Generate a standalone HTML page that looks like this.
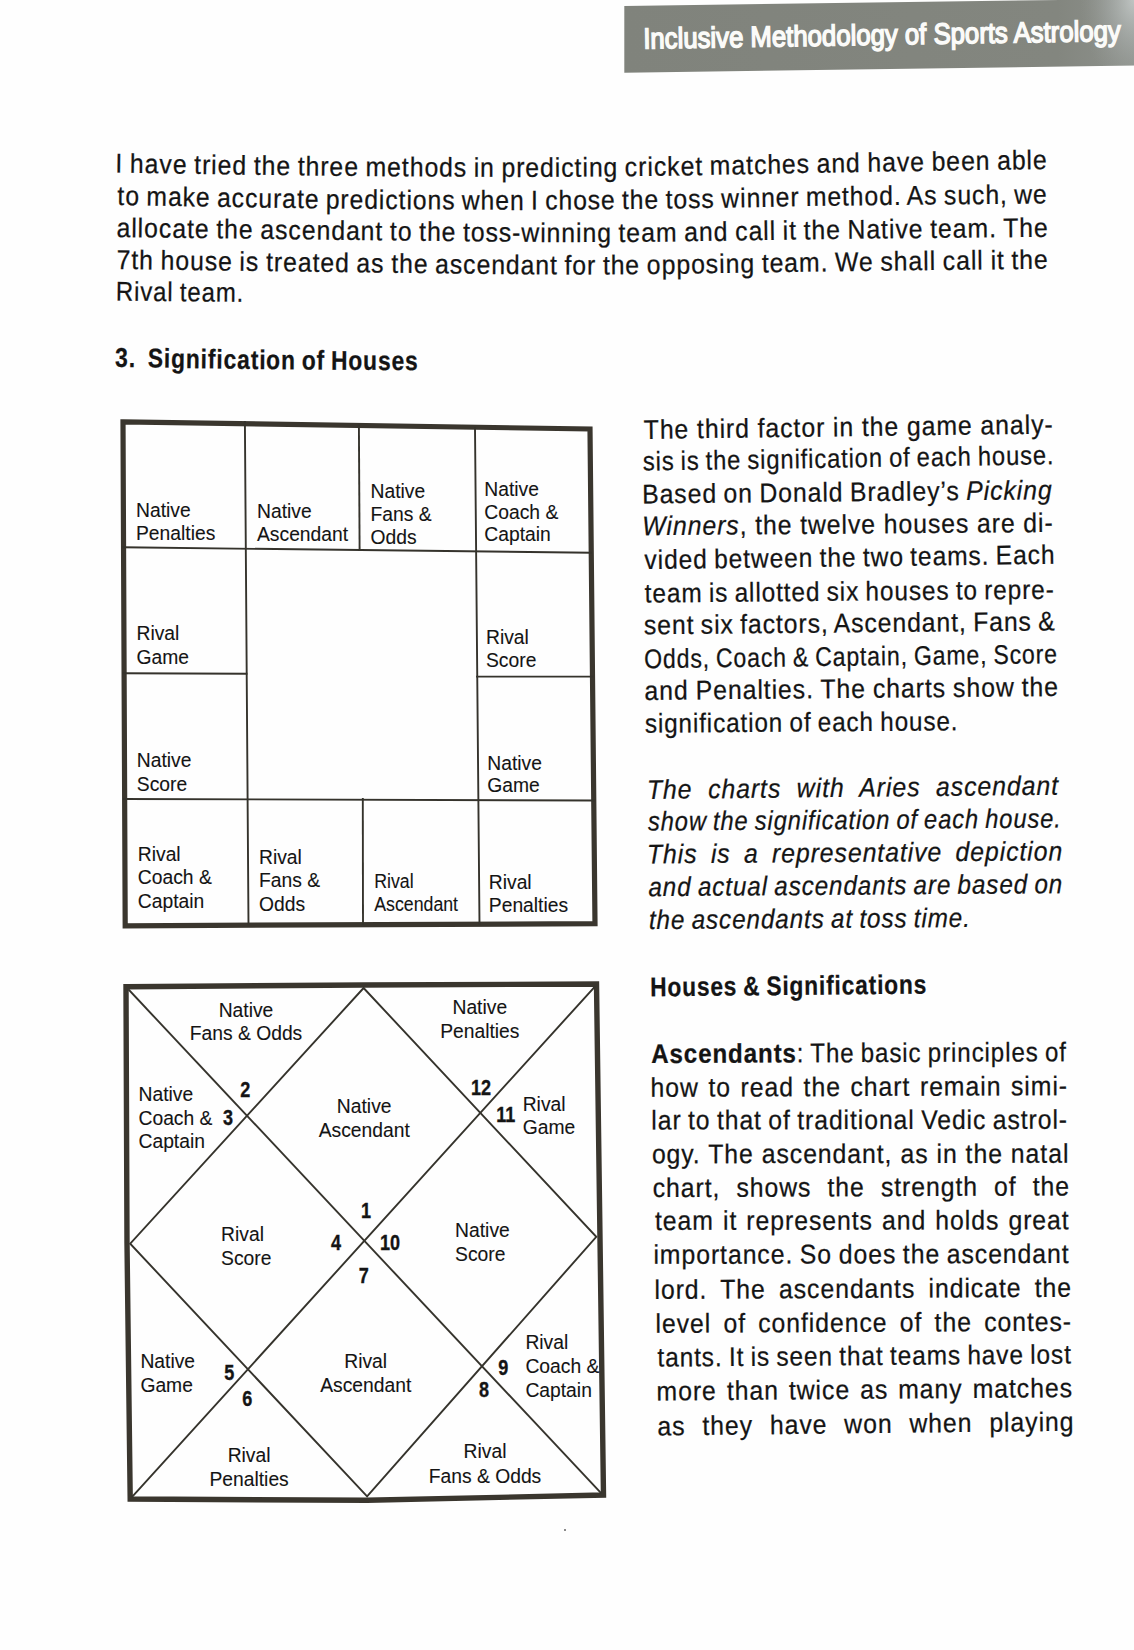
<!DOCTYPE html>
<html><head><meta charset="utf-8"><style>
html,body{margin:0;padding:0;background:#fefefe;}
#pg{position:relative;width:1134px;height:1650px;overflow:hidden;background:#fefefe;}
svg{position:absolute;left:0;top:0;}
text{font-family:"Liberation Sans",sans-serif;white-space:pre;}
</style></head><body><div id="pg">
<svg width="1134" height="1650" viewBox="0 0 1134 1650" xmlns="http://www.w3.org/2000/svg">
<defs>
<linearGradient id="bar" x1="0" y1="0" x2="1" y2="0">
<stop offset="0" stop-color="#80837c"/><stop offset="0.85" stop-color="#83867f"/><stop offset="1" stop-color="#8e928d"/>
</linearGradient>
<radialGradient id="glare" cx="1134" cy="0" r="90" gradientUnits="userSpaceOnUse" gradientTransform="translate(1134 0) scale(0.6 1) translate(-1134 0)">
<stop offset="0" stop-color="#e0e6e6" stop-opacity="0.6"/><stop offset="0.5" stop-color="#c0c6c6" stop-opacity="0.3"/><stop offset="1" stop-color="#a0a4a0" stop-opacity="0"/>
</radialGradient>
</defs>

<defs><path id="pL1" d="M 125.64 172.60 C 169.92 173.17 303.55 175.35 391.30 176.00 C 479.06 176.65 565.22 177.12 652.17 176.50 C 739.13 175.88 831.88 173.55 913.04 172.30 C 994.21 171.05 1090.60 169.71 1139.15 169.00 C 1187.70 168.29 1193.49 168.21 1204.36 168.05" fill="none"/><path id="pL2" d="M 128.36 205.00 C 172.45 205.63 305.18 208.08 392.94 208.80 C 480.69 209.52 567.58 209.83 654.89 209.30 C 742.21 208.77 835.35 206.58 916.85 205.60 C 998.35 204.62 1095.14 203.87 1143.89 203.40 C 1192.65 202.93 1198.47 202.87 1209.38 202.77" fill="none"/><path id="pL3" d="M 126.73 237.00 C 170.83 237.50 303.73 239.15 391.30 240.00 C 478.88 240.85 565.22 242.28 652.17 242.10 C 739.13 241.92 831.70 239.78 913.04 238.90 C 994.39 238.02 1091.49 237.25 1140.22 236.80 C 1188.96 236.35 1194.57 236.30 1205.44 236.20" fill="none"/><path id="pL4" d="M 126.73 268.90 C 170.83 269.47 303.73 271.38 391.30 272.30 C 478.88 273.22 565.22 274.58 652.17 274.40 C 739.13 274.22 831.70 272.15 913.04 271.20 C 994.39 270.25 1091.49 269.24 1140.22 268.70 C 1188.96 268.16 1194.57 268.10 1205.44 267.98" fill="none"/><path id="pL34" d="M 136.24 366.80 C 165.97 367.18 254.84 368.53 314.62 369.10 C 374.41 369.67 453.06 369.94 494.94 370.20 C 536.82 370.46 554.08 370.56 565.91 370.63" fill="none"/></defs>
<polygon points="624.3,5.9 1134,-1.0 1134,65.6 624.3,72.7" fill="url(#bar)"/>
<polygon points="624.3,5.9 1134,-1.0 1134,65.6 624.3,72.7" fill="url(#glare)"/>
<text id="L0" x="0" y="0" font-size="29" word-spacing="0.00" letter-spacing="0.00" transform="translate(643.40 48.60) rotate(-0.936) scale(0.8873 1)" fill="#fbfbf9" stroke="#fbfbf9" stroke-width="1.5"><tspan>Inclusive Methodology of Sports Astrology</tspan></text>
<text id="L1" font-size="27" word-spacing="-1.36" letter-spacing="1.00" transform="scale(0.9200 1)" fill="#141414" stroke="#141414" stroke-width="0.25"><textPath href="#pL1"><tspan>I have tried the three methods in predicting cricket matches and have been able</tspan></textPath></text>
<text id="L2" font-size="27" word-spacing="-1.50" letter-spacing="1.00" transform="scale(0.9162 1)" fill="#141414" stroke="#141414" stroke-width="0.25"><textPath href="#pL2"><tspan>to make accurate predictions when I chose the toss winner method. As such, we</tspan></textPath></text>
<text id="L3" font-size="27" word-spacing="-1.28" letter-spacing="1.00" transform="scale(0.9200 1)" fill="#141414" stroke="#141414" stroke-width="0.25"><textPath href="#pL3"><tspan>allocate the ascendant to the toss-winning team and call it the Native team. The</tspan></textPath></text>
<text id="L4" font-size="27" word-spacing="-1.28" letter-spacing="1.00" transform="scale(0.9200 1)" fill="#141414" stroke="#141414" stroke-width="0.25"><textPath href="#pL4"><tspan>7th house is treated as the ascendant for the opposing team. We shall call it the</tspan></textPath></text>
<text id="L5" x="0" y="0" font-size="27" word-spacing="-1.50" letter-spacing="1.00" transform="translate(115.74 300.50) rotate(0.604) scale(0.8884 1)" fill="#141414" stroke="#141414" stroke-width="0.25"><tspan>Rival team.</tspan></text>
<text id="L6" x="0" y="0" font-size="27" word-spacing="-0.09" letter-spacing="1.00" transform="translate(643.80 438.90) rotate(-0.744) scale(0.9200 1)" fill="#141414" stroke="#141414" stroke-width="0.25"><tspan>The third factor in the game analy-</tspan></text>
<text id="L7" x="0" y="0" font-size="27" word-spacing="-1.50" letter-spacing="1.00" transform="translate(642.99 470.60) rotate(-0.885) scale(0.8796 1)" fill="#141414" stroke="#141414" stroke-width="0.25"><tspan>sis is the signification of each house.</tspan></text>
<text id="L8" x="0" y="0" font-size="27" word-spacing="-1.50" letter-spacing="1.00" transform="translate(642.18 503.40) rotate(-0.591) scale(0.9191 1)" fill="#141414" stroke="#141414" stroke-width="0.25"><tspan>Based on Donald Bradley’s </tspan><tspan font-style="italic">Picking</tspan></text>
<text id="L9" x="0" y="0" font-size="27" word-spacing="-0.15" letter-spacing="1.00" transform="translate(642.37 535.20) rotate(-0.450) scale(0.9200 1)" fill="#141414" stroke="#141414" stroke-width="0.25"><tspan font-style="italic">Winners</tspan><tspan>, the twelve houses are di-</tspan></text>
<text id="L10" x="0" y="0" font-size="27" word-spacing="-1.50" letter-spacing="1.00" transform="translate(644.59 569.10) rotate(-0.744) scale(0.9103 1)" fill="#141414" stroke="#141414" stroke-width="0.25"><tspan>vided between the two teams. Each</tspan></text>
<text id="L11" x="0" y="0" font-size="27" word-spacing="-1.50" letter-spacing="1.00" transform="translate(644.80 602.50) rotate(-0.534) scale(0.9027 1)" fill="#141414" stroke="#141414" stroke-width="0.25"><tspan>team is allotted six houses to repre-</tspan></text>
<text id="L12" x="0" y="0" font-size="27" word-spacing="-1.50" letter-spacing="1.00" transform="translate(644.00 634.30) rotate(-0.545) scale(0.9170 1)" fill="#141414" stroke="#141414" stroke-width="0.25"><tspan>sent six factors, Ascendant, Fans &amp;</tspan></text>
<text id="L13" x="0" y="0" font-size="27" word-spacing="-1.50" letter-spacing="1.00" transform="translate(644.29 668.20) rotate(-0.698) scale(0.8544 1)" fill="#141414" stroke="#141414" stroke-width="0.25"><tspan>Odds, Coach &amp; Captain, Game, Score</tspan></text>
<text id="L14" x="0" y="0" font-size="27" word-spacing="-0.94" letter-spacing="1.00" transform="translate(644.59 699.90) rotate(-0.543) scale(0.9200 1)" fill="#141414" stroke="#141414" stroke-width="0.25"><tspan>and Penalties. The charts show the</tspan></text>
<text id="L15" x="0" y="0" font-size="27" word-spacing="-1.50" letter-spacing="1.00" transform="translate(644.88 732.70) rotate(-0.444) scale(0.8981 1)" fill="#141414" stroke="#141414" stroke-width="0.25"><tspan>signification of each house.</tspan></text>
<text id="L16" x="0" y="0" font-size="27" word-spacing="8.44" letter-spacing="1.00" transform="translate(646.99 798.90) rotate(-0.587) scale(0.9200 1)" fill="#141414" stroke="#141414" stroke-width="0.25"><tspan font-style="italic">The charts with Aries ascendant</tspan></text>
<text id="L17" x="0" y="0" font-size="27" word-spacing="-1.50" letter-spacing="1.00" transform="translate(648.00 830.60) rotate(-0.433) scale(0.8796 1)" fill="#141414" stroke="#141414" stroke-width="0.25"><tspan font-style="italic">show the signification of each house.</tspan></text>
<text id="L18" x="0" y="0" font-size="27" word-spacing="5.96" letter-spacing="1.00" transform="translate(646.98 863.40) rotate(-0.431) scale(0.9200 1)" fill="#141414" stroke="#141414" stroke-width="0.25"><tspan font-style="italic">This is a representative depiction</tspan></text>
<text id="L19" x="0" y="0" font-size="27" word-spacing="-1.50" letter-spacing="1.00" transform="translate(648.49 896.20) rotate(-0.431) scale(0.8982 1)" fill="#141414" stroke="#141414" stroke-width="0.25"><tspan font-style="italic">and actual ascendants are based on</tspan></text>
<text id="L20" x="0" y="0" font-size="27" word-spacing="-1.50" letter-spacing="1.00" transform="translate(648.98 929.10) rotate(-0.398) scale(0.8994 1)" fill="#141414" stroke="#141414" stroke-width="0.25"><tspan font-style="italic">the ascendants at toss time.</tspan></text>
<text id="L21" x="0" y="0" font-size="27" word-spacing="-1.50" letter-spacing="1.00" transform="translate(650.18 996.30) rotate(-0.564) scale(0.8424 1)" fill="#141414" stroke="#141414" stroke-width="0.25"><tspan font-weight="bold">Houses &amp; Significations</tspan></text>
<text id="L22" x="0" y="0" font-size="27" word-spacing="-1.50" letter-spacing="1.00" transform="translate(651.19 1063.00) rotate(-0.249) scale(0.8940 1)" fill="#141414" stroke="#141414" stroke-width="0.25"><tspan font-weight="bold">Ascendants</tspan><tspan>: The basic principles of</tspan></text>
<text id="L23" x="0" y="0" font-size="27" word-spacing="1.96" letter-spacing="1.00" transform="translate(650.48 1096.80) rotate(-0.236) scale(0.9200 1)" fill="#141414" stroke="#141414" stroke-width="0.25"><tspan>how to read the chart remain simi-</tspan></text>
<text id="L24" x="0" y="0" font-size="27" word-spacing="-1.50" letter-spacing="1.00" transform="translate(651.28 1129.40) rotate(-0.083) scale(0.9176 1)" fill="#141414" stroke="#141414" stroke-width="0.25"><tspan>lar to that of traditional Vedic astrol-</tspan></text>
<text id="L25" x="0" y="0" font-size="27" word-spacing="0.17" letter-spacing="1.00" transform="translate(651.89 1163.20) rotate(-0.055) scale(0.9200 1)" fill="#141414" stroke="#141414" stroke-width="0.25"><tspan>ogy. The ascendant, as in the natal</tspan></text>
<text id="L26" x="0" y="0" font-size="27" word-spacing="9.00" letter-spacing="1.00" transform="translate(652.69 1197.10) rotate(-0.235) scale(0.9200 1)" fill="#141414" stroke="#141414" stroke-width="0.25"><tspan>chart, shows the strength of the</tspan></text>
<text id="L27" x="0" y="0" font-size="27" word-spacing="1.40" letter-spacing="1.00" transform="translate(655.00 1229.90) rotate(-0.083) scale(0.9200 1)" fill="#141414" stroke="#141414" stroke-width="0.25"><tspan>team it represents and holds great</tspan></text>
<text id="L28" x="0" y="0" font-size="27" word-spacing="-1.32" letter-spacing="1.00" transform="translate(653.39 1263.80) rotate(-0.111) scale(0.9200 1)" fill="#141414" stroke="#141414" stroke-width="0.25"><tspan>importance. So does the ascendant</tspan></text>
<text id="L29" x="0" y="0" font-size="27" word-spacing="5.91" letter-spacing="1.00" transform="translate(654.48 1298.90) rotate(-0.291) scale(0.9200 1)" fill="#141414" stroke="#141414" stroke-width="0.25"><tspan>lord. The ascendants indicate the</tspan></text>
<text id="L30" x="0" y="0" font-size="27" word-spacing="4.82" letter-spacing="1.00" transform="translate(655.48 1332.80) rotate(-0.278) scale(0.9200 1)" fill="#141414" stroke="#141414" stroke-width="0.25"><tspan>level of confidence of the contes-</tspan></text>
<text id="L31" x="0" y="0" font-size="27" word-spacing="-1.50" letter-spacing="1.00" transform="translate(657.50 1366.60) rotate(-0.430) scale(0.9048 1)" fill="#141414" stroke="#141414" stroke-width="0.25"><tspan>tants. It is seen that teams have lost</tspan></text>
<text id="L32" x="0" y="0" font-size="27" word-spacing="2.41" letter-spacing="1.00" transform="translate(656.58 1400.50) rotate(-0.472) scale(0.9200 1)" fill="#141414" stroke="#141414" stroke-width="0.25"><tspan>more than twice as many matches</tspan></text>
<text id="L33" x="0" y="0" font-size="27" word-spacing="9.81" letter-spacing="1.00" transform="translate(657.59 1435.40) rotate(-0.637) scale(0.9200 1)" fill="#141414" stroke="#141414" stroke-width="0.25"><tspan>as they have won when playing</tspan></text>
<text id="L34" font-size="27" word-spacing="-1.50" letter-spacing="1.00" transform="scale(0.8455 1)" fill="#141414" stroke="#141414" stroke-width="0.25"><textPath href="#pL34"><tspan font-weight="bold">3.  Signification of Houses</tspan></textPath></text>
<polygon points="123,421.8 590,429 595,923.7 125.2,925.8" fill="none" stroke="#3a362e" stroke-width="5.2" stroke-linejoin="miter"/>
<line x1="244.9" y1="422" x2="248.5" y2="924" stroke="#35332c" stroke-width="1.9" stroke-linecap="square"/>
<line x1="475" y1="428" x2="479.5" y2="924" stroke="#35332c" stroke-width="1.9" stroke-linecap="square"/>
<line x1="358.9" y1="425" x2="359.6" y2="549" stroke="#35332c" stroke-width="1.9" stroke-linecap="square"/>
<line x1="362.8" y1="799" x2="363" y2="924" stroke="#35332c" stroke-width="1.9" stroke-linecap="square"/>
<line x1="123" y1="547.3" x2="591" y2="552.7" stroke="#35332c" stroke-width="1.9" stroke-linecap="square"/>
<line x1="123.8" y1="673.2" x2="246.5" y2="673.8" stroke="#35332c" stroke-width="1.9" stroke-linecap="square"/>
<line x1="477" y1="676.6" x2="592.5" y2="676.6" stroke="#35332c" stroke-width="1.9" stroke-linecap="square"/>
<line x1="124" y1="799" x2="594" y2="800.5" stroke="#35332c" stroke-width="1.9" stroke-linecap="square"/>
<text x="136.0" y="516.8" font-size="19.3" text-anchor="start" fill="#141414" stroke="#141414" stroke-width="0.1">Native</text><text x="136.0" y="539.8" font-size="19.3" text-anchor="start" fill="#141414" stroke="#141414" stroke-width="0.1">Penalties</text>
<text x="257.0" y="518.4" font-size="19.3" text-anchor="start" fill="#141414" stroke="#141414" stroke-width="0.1">Native</text><text x="257.0" y="541.4" font-size="19.3" text-anchor="start" fill="#141414" stroke="#141414" stroke-width="0.1">Ascendant</text>
<text x="370.5" y="498.1" font-size="19.3" text-anchor="start" fill="#141414" stroke="#141414" stroke-width="0.1">Native</text><text x="370.5" y="521.4" font-size="19.3" text-anchor="start" fill="#141414" stroke="#141414" stroke-width="0.1">Fans &amp;</text><text x="370.5" y="543.6" font-size="19.3" text-anchor="start" fill="#141414" stroke="#141414" stroke-width="0.1">Odds</text>
<text x="484.3" y="495.5" font-size="19.3" text-anchor="start" fill="#141414" stroke="#141414" stroke-width="0.1">Native</text><text x="484.3" y="518.7" font-size="19.3" text-anchor="start" fill="#141414" stroke="#141414" stroke-width="0.1">Coach &amp;</text><text x="484.3" y="541.2" font-size="19.3" text-anchor="start" fill="#141414" stroke="#141414" stroke-width="0.1">Captain</text>
<text x="136.5" y="639.8" font-size="19.3" text-anchor="start" fill="#141414" stroke="#141414" stroke-width="0.1">Rival</text><text x="136.5" y="663.6" font-size="19.3" text-anchor="start" fill="#141414" stroke="#141414" stroke-width="0.1">Game</text>
<text x="486.0" y="644.4" font-size="19.3" text-anchor="start" fill="#141414" stroke="#141414" stroke-width="0.1">Rival</text><text x="486.0" y="667.3" font-size="19.3" text-anchor="start" fill="#141414" stroke="#141414" stroke-width="0.1">Score</text>
<text x="136.8" y="767.3" font-size="19.3" text-anchor="start" fill="#141414" stroke="#141414" stroke-width="0.1">Native</text><text x="136.8" y="791" font-size="19.3" text-anchor="start" fill="#141414" stroke="#141414" stroke-width="0.1">Score</text>
<text x="487.3" y="770" font-size="19.3" text-anchor="start" fill="#141414" stroke="#141414" stroke-width="0.1">Native</text><text x="487.3" y="792" font-size="19.3" text-anchor="start" fill="#141414" stroke="#141414" stroke-width="0.1">Game</text>
<text x="137.8" y="861" font-size="19.3" text-anchor="start" fill="#141414" stroke="#141414" stroke-width="0.1">Rival</text><text x="137.8" y="884.2" font-size="19.3" text-anchor="start" fill="#141414" stroke="#141414" stroke-width="0.1">Coach &amp;</text><text x="137.8" y="908.2" font-size="19.3" text-anchor="start" fill="#141414" stroke="#141414" stroke-width="0.1">Captain</text>
<text x="259.0" y="863.9" font-size="19.3" text-anchor="start" fill="#141414" stroke="#141414" stroke-width="0.1">Rival</text><text x="259.0" y="887.4" font-size="19.3" text-anchor="start" fill="#141414" stroke="#141414" stroke-width="0.1">Fans &amp;</text><text x="259.0" y="911.3" font-size="19.3" text-anchor="start" fill="#141414" stroke="#141414" stroke-width="0.1">Odds</text>
<text x="0" y="0" transform="translate(374.2 888.1) scale(0.92 1)" font-size="19.3" text-anchor="start" fill="#141414" stroke="#141414" stroke-width="0.1">Rival</text><text x="0" y="0" transform="translate(374.2 911.3) scale(0.92 1)" font-size="19.3" text-anchor="start" fill="#141414" stroke="#141414" stroke-width="0.1">Ascendant</text>
<text x="488.8" y="888.7" font-size="19.3" text-anchor="start" fill="#141414" stroke="#141414" stroke-width="0.1">Rival</text><text x="488.8" y="912" font-size="19.3" text-anchor="start" fill="#141414" stroke="#141414" stroke-width="0.1">Penalties</text>
<polygon points="126,986.7 363,985 596.5,984 600,1238.5 603.5,1495 367,1500.3 130.2,1499 127,1243" fill="none" stroke="#3a362e" stroke-width="5.4" stroke-linejoin="miter"/>
<line x1="129" y1="990" x2="600.7" y2="1492.7" stroke="#35332c" stroke-width="1.9" stroke-linecap="square"/>
<line x1="594.7" y1="986.8" x2="132.5" y2="1496.5" stroke="#35332c" stroke-width="1.9" stroke-linecap="square"/>
<polygon points="363.6,988 596.3,1236.8 367.1,1496.4 130.2,1243.7" fill="none" stroke="#35332c" stroke-width="1.9" stroke-linejoin="miter"/>
<text x="246.0" y="1016.5" font-size="19.3" text-anchor="middle" fill="#141414" stroke="#141414" stroke-width="0.1">Native</text><text x="246.0" y="1040" font-size="19.3" text-anchor="middle" fill="#141414" stroke="#141414" stroke-width="0.1">Fans &amp; Odds</text>
<text x="479.8" y="1014.3" font-size="19.3" text-anchor="middle" fill="#141414" stroke="#141414" stroke-width="0.1">Native</text><text x="479.8" y="1037.6" font-size="19.3" text-anchor="middle" fill="#141414" stroke="#141414" stroke-width="0.1">Penalties</text>
<text x="364.2" y="1112.7" font-size="19.3" text-anchor="middle" fill="#141414" stroke="#141414" stroke-width="0.1">Native</text><text x="364.2" y="1136.8" font-size="19.3" text-anchor="middle" fill="#141414" stroke="#141414" stroke-width="0.1">Ascendant</text>
<text x="138.5" y="1100.7" font-size="19.3" text-anchor="start" fill="#141414" stroke="#141414" stroke-width="0.1">Native</text><text x="138.5" y="1124.8" font-size="19.3" text-anchor="start" fill="#141414" stroke="#141414" stroke-width="0.1">Coach &amp;</text><text x="138.5" y="1148.3" font-size="19.3" text-anchor="start" fill="#141414" stroke="#141414" stroke-width="0.1">Captain</text>
<text x="522.7" y="1110.9" font-size="19.3" text-anchor="start" fill="#141414" stroke="#141414" stroke-width="0.1">Rival</text><text x="522.7" y="1134.1" font-size="19.3" text-anchor="start" fill="#141414" stroke="#141414" stroke-width="0.1">Game</text>
<text x="221.1" y="1240.7" font-size="19.3" text-anchor="start" fill="#141414" stroke="#141414" stroke-width="0.1">Rival</text><text x="221.1" y="1265.1" font-size="19.3" text-anchor="start" fill="#141414" stroke="#141414" stroke-width="0.1">Score</text>
<text x="455.1" y="1237" font-size="19.3" text-anchor="start" fill="#141414" stroke="#141414" stroke-width="0.1">Native</text><text x="455.1" y="1260.5" font-size="19.3" text-anchor="start" fill="#141414" stroke="#141414" stroke-width="0.1">Score</text>
<text x="140.4" y="1368.3" font-size="19.3" text-anchor="start" fill="#141414" stroke="#141414" stroke-width="0.1">Native</text><text x="140.4" y="1391.7" font-size="19.3" text-anchor="start" fill="#141414" stroke="#141414" stroke-width="0.1">Game</text>
<text x="365.7" y="1367.7" font-size="19.3" text-anchor="middle" fill="#141414" stroke="#141414" stroke-width="0.1">Rival</text><text x="365.7" y="1391.7" font-size="19.3" text-anchor="middle" fill="#141414" stroke="#141414" stroke-width="0.1">Ascendant</text>
<text x="525.4" y="1349.1" font-size="19.3" text-anchor="start" fill="#141414" stroke="#141414" stroke-width="0.1">Rival</text><text x="525.4" y="1372.9" font-size="19.3" text-anchor="start" fill="#141414" stroke="#141414" stroke-width="0.1">Coach &amp;</text><text x="525.4" y="1396.7" font-size="19.3" text-anchor="start" fill="#141414" stroke="#141414" stroke-width="0.1">Captain</text>
<text x="249.1" y="1462.1" font-size="19.3" text-anchor="middle" fill="#141414" stroke="#141414" stroke-width="0.1">Rival</text><text x="249.1" y="1485.6" font-size="19.3" text-anchor="middle" fill="#141414" stroke="#141414" stroke-width="0.1">Penalties</text>
<text x="485.0" y="1458.4" font-size="19.3" text-anchor="middle" fill="#141414" stroke="#141414" stroke-width="0.1">Rival</text><text x="485.0" y="1482.9" font-size="19.3" text-anchor="middle" fill="#141414" stroke="#141414" stroke-width="0.1">Fans &amp; Odds</text>
<text x="0" y="0" transform="translate(240.2 1097.2) scale(0.95 1.13)" font-size="19" font-weight="bold" fill="#141414" stroke="#141414" stroke-width="0.3">2</text>
<text x="0" y="0" transform="translate(223.0 1125.0) scale(0.95 1.13)" font-size="19" font-weight="bold" fill="#141414" stroke="#141414" stroke-width="0.3">3</text>
<text x="0" y="0" transform="translate(471.0 1094.5) scale(0.95 1.13)" font-size="19" font-weight="bold" fill="#141414" stroke="#141414" stroke-width="0.3">12</text>
<text x="0" y="0" transform="translate(496.2 1121.6) scale(0.95 1.13)" font-size="19" font-weight="bold" fill="#141414" stroke="#141414" stroke-width="0.3">11</text>
<text x="0" y="0" transform="translate(361.09999999999997 1217.5) scale(0.95 1.13)" font-size="19" font-weight="bold" fill="#141414" stroke="#141414" stroke-width="0.3">1</text>
<text x="0" y="0" transform="translate(331.0 1250.3999999999999) scale(0.95 1.13)" font-size="19" font-weight="bold" fill="#141414" stroke="#141414" stroke-width="0.3">4</text>
<text x="0" y="0" transform="translate(380.0 1249.5) scale(0.95 1.13)" font-size="19" font-weight="bold" fill="#141414" stroke="#141414" stroke-width="0.3">10</text>
<text x="0" y="0" transform="translate(358.7 1282.5) scale(0.95 1.13)" font-size="19" font-weight="bold" fill="#141414" stroke="#141414" stroke-width="0.3">7</text>
<text x="0" y="0" transform="translate(224.2 1380.2) scale(0.95 1.13)" font-size="19" font-weight="bold" fill="#141414" stroke="#141414" stroke-width="0.3">5</text>
<text x="0" y="0" transform="translate(242.2 1405.5) scale(0.95 1.13)" font-size="19" font-weight="bold" fill="#141414" stroke="#141414" stroke-width="0.3">6</text>
<text x="0" y="0" transform="translate(498.2 1375.0) scale(0.95 1.13)" font-size="19" font-weight="bold" fill="#141414" stroke="#141414" stroke-width="0.3">9</text>
<text x="0" y="0" transform="translate(479.0 1396.8999999999999) scale(0.95 1.13)" font-size="19" font-weight="bold" fill="#141414" stroke="#141414" stroke-width="0.3">8</text>
<rect x="564" y="1529" width="2" height="2" fill="#8a8a8a"/>
</svg></div></body></html>
